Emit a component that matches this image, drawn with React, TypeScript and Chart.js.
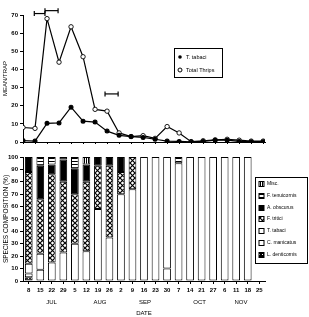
import React, { useEffect, useRef } from 'react';
import { Chart, registerables } from 'chart.js';

Chart.register(...registerables);

// ---------- data ----------
const dateLabels = ['8', '15', '22', '29', '5', '12', '19', '26', '2', '9', '16', '23', '30', '7', '14', '21', '27', '6', '11', '18', '25'];
const monthLabels = ['JUL', 'AUG', 'SEP', 'OCT', 'NOV'];
const meanTicks = [0, 10, 20, 30, 40, 50, 60, 70];
const pctTicks = [0, 10, 20, 30, 40, 50, 60, 70, 80, 90, 100];

// mean per trap
const totalThrips = [8, 7.5, 68, 44, 63.5, 47, 18, 17, 5, 3, 3.5, 2, 8.5, 5, 0.2, 0.7, 1.2, 1.5, 1, 0.5, 0.5];
const tabaciMean = [0.8, 0.5, 10.3, 10.5, 19.2, 11.5, 11, 6, 3.7, 3, 2.5, 1.5, 0.5, 0.3, 0.1, 0.3, 1, 1, 0.3, 0.2, 0.2];

// horizontal period markers on the upper panel (start index, end index, level)
const periodStart = [0.94, 1.83, 6.83];
const periodEnd = [1.83, 2.92, 7.92];
const periodLevel = [70.8, 72.4, 26.5];

// species composition (%) — stacked bottom to top
const lDenticornis = [3, 0, 0, 0, 0, 0, 0, 0, 0, 0, 0, 0, 0, 0, 0, 0, 0, 0, 0, 0, null];
const cManicatus = [3, 9, 0, 0, 0, 0, 0, 0, 0, 0, 0, 0, 10, 0, 0, 0, 0, 0, 0, 0, null];
const tTabaci = [8, 13, 15, 23, 30, 24, 58, 35, 70, 74, 100, 100, 90, 95, 100, 100, 100, 100, 100, 100, null];
const fTritici = [74, 44, 71, 57, 40, 56, 35, 58, 18, 26, 0, 0, 0, 0, 0, 0, 0, 0, 0, 0, null];
const aObscurus = [12, 27, 8, 18, 21, 14, 7, 7, 12, 0, 0, 0, 0, 0, 0, 0, 0, 0, 0, 0, null];
const fTenuicornis = [0, 7, 6, 2, 9, 0, 0, 0, 0, 0, 0, 0, 0, 5, 0, 0, 0, 0, 0, 0, null];
const misc = [0, 0, 0, 0, 0, 6, 0, 0, 0, 0, 0, 0, 0, 0, 0, 0, 0, 0, 0, 0, null];

// ---------- layout constants ----------
const FONT = "'Liberation Sans', Arial, sans-serif";
const monthPos = [1.97, 6.18, 10.09, 14.82, 18.42];
const datePos = 10.0;

function makePattern(kind: string): CanvasPattern | string {
  const c = document.createElement('canvas');
  const ctx = c.getContext('2d');
  if (!ctx) return '#fff';
  if (kind === 'cross') {
    c.width = 5; c.height = 5;
    ctx.fillStyle = '#fff'; ctx.fillRect(0, 0, 5, 5);
    ctx.strokeStyle = '#000'; ctx.lineWidth = 1.2;
    ctx.beginPath();
    ctx.moveTo(0, 0); ctx.lineTo(5, 5);
    ctx.moveTo(5, 0); ctx.lineTo(0, 5);
    ctx.stroke();
  } else if (kind === 'hlines') {
    c.width = 3; c.height = 3;
    ctx.fillStyle = '#fff'; ctx.fillRect(0, 0, 3, 3);
    ctx.fillStyle = '#000'; ctx.fillRect(0, 1, 3, 1);
  } else if (kind === 'vlines') {
    c.width = 2; c.height = 2;
    ctx.fillStyle = '#fff'; ctx.fillRect(0, 0, 2, 2);
    ctx.fillStyle = '#000'; ctx.fillRect(0, 0, 1, 2);
  } else if (kind === 'grid') {
    c.width = 3; c.height = 3;
    ctx.fillStyle = '#000'; ctx.fillRect(0, 0, 3, 3);
    ctx.fillStyle = '#fff'; ctx.fillRect(1, 1, 1, 1);
  }
  return ctx.createPattern(c, 'repeat') || '#fff';
}

const nz = (arr: (number | null)[]) => arr.map((v) => (v === 0 ? null : v));

export default function App() {
  const topRef = useRef<HTMLCanvasElement>(null);
  const botRef = useRef<HTMLCanvasElement>(null);

  useEffect(() => {
    const idx = dateLabels.map((_, i) => i);

    const periodSets = periodStart.map((s, k) => ({
      label: 'period' + k,
      data: [{ x: s, y: periodLevel[k] }, { x: periodEnd[k], y: periodLevel[k] }],
      borderColor: '#000',
      borderWidth: 1.2,
      pointStyle: 'line',
      rotation: 90,
      pointRadius: 2.5,
      pointBorderWidth: 1.2,
      pointBorderColor: '#000',
      clip: false,
      tension: 0,
    }));

    const topLegend = {
      id: 'topLegend',
      afterDraw(chart: any) {
        const ctx = chart.ctx;
        ctx.save();
        ctx.strokeStyle = '#000';
        ctx.lineWidth = 1;
        ctx.strokeRect(174.5, 48.5, 48, 29);
        ctx.fillStyle = '#000';
        ctx.beginPath(); ctx.arc(180, 57, 1.8, 0, Math.PI * 2); ctx.fill();
        ctx.beginPath(); ctx.arc(180, 70, 2, 0, Math.PI * 2); ctx.stroke();
        ctx.font = `5.5px ${FONT}`;
        ctx.textBaseline = 'middle';
        ctx.textAlign = 'left';
        ctx.fillText('T. tabaci', 186, 57);
        ctx.fillText('Total Thrips', 186, 70);
        ctx.restore();
      },
    };

    const tickFont = { size: 6, family: FONT, weight: 'bold' };

    const c1 = new Chart(topRef.current as HTMLCanvasElement, {
      type: 'line',
      data: {
        datasets: [
          {
            label: 'T. tabaci',
            data: idx.map((i) => ({ x: i, y: tabaciMean[i] })),
            borderColor: '#000',
            borderWidth: 1.2,
            pointRadius: 1.9,
            pointBackgroundColor: '#000',
            pointBorderColor: '#000',
            tension: 0,
          },
          {
            label: 'Total Thrips',
            data: idx.map((i) => ({ x: i, y: totalThrips[i] })),
            borderColor: '#000',
            borderWidth: 1.2,
            pointRadius: 2.2,
            pointBackgroundColor: '#fff',
            pointBorderColor: '#000',
            pointBorderWidth: 0.9,
            tension: 0,
          },
          ...(periodSets as any[]),
        ],
      },
      options: {
        responsive: false,
        animation: false,
        events: [],
        layout: { padding: { top: 15, right: 44, left: 0, bottom: 0 } },
        plugins: { legend: { display: false }, tooltip: { enabled: false } },
        scales: {
          x: {
            type: 'linear',
            min: 0,
            max: 20.15,
            afterBuildTicks: (axis: any) => { axis.ticks = idx.map((v) => ({ value: v })); },
            ticks: { display: false },
            grid: { drawOnChartArea: false, drawTicks: true, tickLength: 2, color: '#000' },
            border: { display: true, color: '#000', width: 1 },
            afterFit: (s: any) => { s.height = 6; },
          },
          y: {
            min: 0,
            max: 70,
            afterBuildTicks: (axis: any) => { axis.ticks = meanTicks.map((v) => ({ value: v })); },
            ticks: { font: tickFont, color: '#000', padding: 2 },
            grid: { drawOnChartArea: false, tickLength: 3, color: '#000' },
            border: { display: true, color: '#000', width: 1 },
            title: { display: true, text: 'MEAN/TRAP', font: { size: 6, family: FONT }, color: '#000', padding: { top: 2, bottom: 0 } },
            afterFit: (s: any) => { s.width = 23; },
          },
        },
      },
      plugins: [topLegend],
    } as any);

    const pCross = makePattern('cross');
    const pH = makePattern('hlines');
    const pV = makePattern('vlines');
    const pGrid = makePattern('grid');

    const species = [
      { label: 'L. denticornis', data: lDenticornis, fill: pGrid },
      { label: 'C. manicatus', data: cManicatus, fill: '#fff' },
      { label: 'T. tabaci', data: tTabaci, fill: '#fff' },
      { label: 'F. tritici', data: fTritici, fill: pCross },
      { label: 'A. obscurus', data: aObscurus, fill: '#000' },
      { label: 'F. tenuicornis', data: fTenuicornis, fill: pH },
      { label: 'Misc.', data: misc, fill: pV },
    ];

    const botDecor = {
      id: 'botDecor',
      afterDraw(chart: any) {
        const ctx = chart.ctx;
        const xs = chart.scales.x;
        ctx.save();
        ctx.fillStyle = '#000';
        ctx.font = `6px ${FONT}`;
        ctx.textAlign = 'center';
        ctx.textBaseline = 'middle';
        monthLabels.forEach((m, k) => {
          ctx.fillText(m, xs.getPixelForValue(monthPos[k]), 154);
        });
        ctx.fillText('DATE', xs.getPixelForValue(datePos), 165);

        // legend
        ctx.strokeStyle = '#000';
        ctx.lineWidth = 1;
        ctx.strokeRect(255.5, 29.5, 52, 86);
        const items = species.slice().reverse();
        ctx.font = `5px ${FONT}`;
        ctx.textAlign = 'left';
        items.forEach((it, k) => {
          const y = 36 + 11.8 * k;
          ctx.fillStyle = it.fill as any;
          ctx.fillRect(259, Math.round(y) - 2.5, 5, 5);
          ctx.strokeRect(259, Math.round(y) - 2.5, 5, 5);
          ctx.fillStyle = '#000';
          ctx.fillText(it.label, 267, Math.round(y));
        });
        ctx.restore();
      },
    };

    const c2 = new Chart(botRef.current as HTMLCanvasElement, {
      type: 'bar',
      data: {
        labels: dateLabels,
        datasets: species.map((s) => ({
          label: s.label,
          data: nz(s.data),
          backgroundColor: s.fill,
          borderColor: '#000',
          borderWidth: 1,
          borderSkipped: false,
          barPercentage: 0.67,
          categoryPercentage: 1,
        })),
      },
      options: {
        responsive: false,
        animation: false,
        events: [],
        layout: { padding: { top: 9, right: 44, left: 0, bottom: 0 } },
        plugins: { legend: { display: false }, tooltip: { enabled: false } },
        scales: {
          x: {
            stacked: true,
            offset: true,
            ticks: { font: tickFont, color: '#000', padding: 3, autoSkip: false, maxRotation: 0 },
            grid: { offset: false, drawOnChartArea: false, tickLength: 3, color: '#000' },
            border: { display: true, color: '#000', width: 1 },
            afterFit: (s: any) => { s.height = 36; },
          },
          y: {
            stacked: true,
            min: 0,
            max: 100,
            afterBuildTicks: (axis: any) => { axis.ticks = pctTicks.map((v) => ({ value: v })); },
            ticks: { font: tickFont, color: '#000', padding: 2 },
            grid: { drawOnChartArea: false, tickLength: 3, color: '#000' },
            border: { display: true, color: '#000', width: 1 },
            title: { display: true, text: 'SPECIES COMPOSITION (%)', font: { size: 6.5, family: FONT }, color: '#000', padding: { top: 2, bottom: 0 } },
            afterFit: (s: any) => { s.width = 23; },
          },
        },
      },
      plugins: [botDecor],
    } as any);

    return () => {
      c1.destroy();
      c2.destroy();
    };
  }, []);

  return (
    <div style={{ position: 'fixed', left: 0, top: 0, width: 309, height: 317, background: '#fff' }}>
      <canvas ref={topRef} width={309} height={148} style={{ position: 'absolute', left: 0, top: 0 }} />
      <canvas ref={botRef} width={309} height={169} style={{ position: 'absolute', left: 0, top: 148 }} />
    </div>
  );
}
